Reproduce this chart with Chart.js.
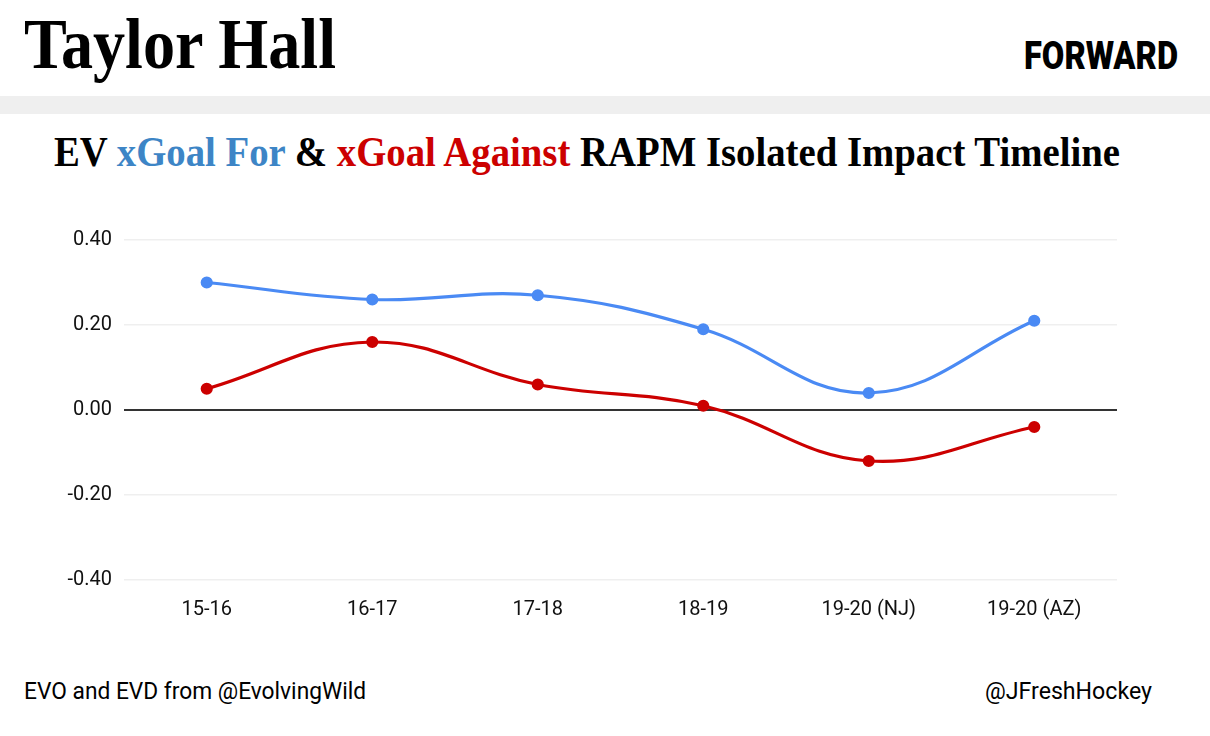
<!DOCTYPE html>
<html>
<head>
<meta charset="utf-8">
<script src="https://cdn.jsdelivr.net/npm/chart.js@4"></script>
<style>
  body { margin: 0; width: 1210px; height: 736px; background: #fff; position: relative; overflow: hidden; }
  .fit { position: absolute; white-space: nowrap; transform-origin: 0 0; line-height: 1; }
  #name { left: 24px; top: 3px; font: bold 72px "Liberation Serif", serif; color: #000; }
  #pos { left: 1024px; top: 34px; font: 900 38px Roboto, sans-serif; color: #000; }
  #band { position: absolute; left: 0; top: 96px; width: 1210px; height: 18px; background: #efefef; }
  #sub { left: 54px; top: 128px; font: bold 42px "Liberation Serif", serif; color: #000; }
  #foot1 { left: 24px; top: 677px; font: 24px Roboto, sans-serif; color: #000; }
  #foot2 { left: 985px; top: 677px; font: 24px Roboto, sans-serif; color: #000; }
  #wrap { position: absolute; left: 0; top: 216px; width: 1210px; height: 424px; }
</style>
</head>
<body>
<div id="name" class="fit" data-w="312">Taylor Hall</div>
<div id="pos" class="fit" data-w="154">FORWARD</div>
<div id="band"></div>
<div id="sub" class="fit" data-w="1066">EV <span style="color:#3d85c6">xGoal For</span> &amp; <span style="color:#cc0000">xGoal Against</span> RAPM Isolated Impact Timeline</div>
<div id="foot1" class="fit" data-w="342">EVO and EVD from @EvolvingWild</div>
<div id="foot2" class="fit" data-w="167">@JFreshHockey</div>
<div id="wrap"><canvas id="grafica"></canvas></div>
<script>
// squeeze the titles to the widths of the original
document.querySelectorAll('.fit').forEach(el => {
  const w = el.getBoundingClientRect().width;
  el.style.transform = 'scaleX(' + (el.dataset.w / w) + ')';
});

const temporadas = ['15-16', '16-17', '17-18', '18-19', '19-20 (NJ)', '19-20 (AZ)'];
const xgFor = [0.30, 0.26, 0.27, 0.19, 0.04, 0.21];
const xgAgainst = [0.05, 0.16, 0.06, 0.01, -0.12, -0.04];
const ticksY = [-0.40, -0.20, 0.00, 0.20, 0.40];

const azul = '#4a8af4';
const rojo = '#cc0000';

const data = {
  labels: temporadas,
  datasets: [
    {
      label: 'xGoal For',
      data: xgFor,
      borderColor: azul,
      backgroundColor: azul,
      borderWidth: 3.2,
      pointRadius: 4.5,
      tension: 0.4
    },
    {
      label: 'xGoal Against',
      data: xgAgainst,
      borderColor: rojo,
      backgroundColor: rojo,
      borderWidth: 3.2,
      pointRadius: 4.5,
      tension: 0.4
    }
  ]
};

const config = {
  type: 'line',
  data: data,
  options: {
    responsive: true,
    maintainAspectRatio: false,
    animation: false,
    layout: { padding: { top: 23, right: 93, left: 0, bottom: 0 } },
    plugins: {
      legend: { display: false },
      tooltip: { enabled: false }
    },
    scales: {
      x: {
        offset: true,
        grid: { display: false },
        border: { display: false },
        ticks: { color: '#111', padding: 10, maxRotation: 0, font: { family: 'Roboto', size: 20 } },
        afterFit: s => { s.height = 60; }
      },
      y: {
        min: -0.4,
        max: 0.4,
        afterBuildTicks: s => { s.ticks = ticksY.map(v => ({ value: v })); },
        border: { display: false },
        grid: {
          drawTicks: false,
          color: c => c.tick && c.tick.value === 0 ? '#333' : '#efefef',
          lineWidth: c => c.tick && c.tick.value === 0 ? 2 : 1.5
        },
        ticks: {
          color: '#111',
          padding: 12,
          font: { family: 'Roboto', size: 20 },
          callback: v => v.toFixed(2)
        },
        afterFit: s => { s.width = 124; }
      }
    }
  }
};

const chart = new Chart(document.querySelector('#grafica'), config);
</script>
</body>
</html>
